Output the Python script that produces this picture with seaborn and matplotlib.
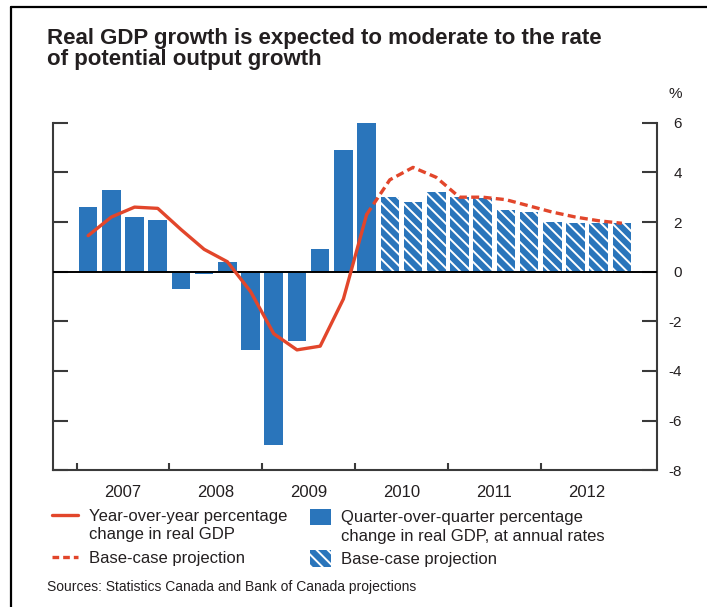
import matplotlib
matplotlib.use("Agg")
import matplotlib.pyplot as plt
import seaborn as sns
import pandas as pd
from matplotlib import font_manager as fm
from matplotlib.lines import Line2D
from matplotlib.patches import Patch

# ---------------- data ----------------
years = ["2007", "2008", "2009", "2010", "2011", "2012"]
quarters = [f"{y}Q{q}" for y in years for q in (1, 2, 3, 4)]
qoq_actual = [2.6, 3.3, 2.2, 2.1, -0.7, -0.1, 0.4, -3.15, -7.0, -2.8, 0.9, 4.9, 6.0]
qoq_projection = [3.0, 2.8, 3.2, 3.0, 2.95, 2.5, 2.4, 2.0, 1.95, 1.95, 1.95]
yoy_actual = [1.45, 2.2, 2.6, 2.55, 1.7, 0.9, 0.4, -0.8, -2.5, -3.15, -3.0, -1.1, 2.3]
yoy_projection = [3.7, 4.2, 3.8, 3.0, 3.0, 2.9, 2.65, 2.4, 2.2, 2.05, 1.95]
y_ticks = [-8, -6, -4, -2, 0, 2, 4, 6]
y_tick_labels = ["-8", "-6", "-4", "-2", "0", "2", "4", "6"]

title = "Real GDP growth is expected to moderate to the rate\nof potential output growth"
legend_line = "Year-over-year percentage"
legend_line2 = "change in real GDP"
legend_bar = "Quarter-over-quarter percentage"
legend_bar2 = "change in real GDP, at annual rates"
legend_proj = "Base-case projection"
source = "Sources: Statistics Canada and Bank of Canada projections"

# ---------------- style ----------------
sns.set_theme(style="white")
avail = {f.name for f in fm.fontManager.ttflist}
BASE = "Liberation Sans"
NARROW = "Liberation Sans Narrow" if "Liberation Sans Narrow" in avail else None
plt.rcParams["font.family"] = [BASE, "DejaVu Sans"]
plt.rcParams["hatch.linewidth"] = 1.4
plt.rcParams["axes.unicode_minus"] = False

BLUE = "#2A75BB"
RED = "#E2462B"
INK = "#231F20"
SPINE = "#3A3A3A"
HATCH = "\\\\\\"

W, H = 707, 607
fig = plt.figure(figsize=(W / 100, H / 100), dpi=100)
fig.patch.set_facecolor("white")

ax_left, ax_right, ax_top, ax_bottom = 53.3, 656.7, 122.7, 470.3
ax = fig.add_axes([ax_left / W, 1 - ax_bottom / H, (ax_right - ax_left) / W, (ax_bottom - ax_top) / H])

n_act = len(qoq_actual)
df = pd.DataFrame({
    "pos": list(range(len(quarters))),
    "quarter": quarters,
    "qoq": qoq_actual + qoq_projection,
    "kind": ["Actual"] * n_act + ["Projection"] * len(qoq_projection),
})

sns.barplot(data=df, x="pos", y="qoq", native_scale=True, color=BLUE, saturation=1,
            width=0.8, errorbar=None, ax=ax)
for patch, kind in zip(ax.containers[0], df["kind"]):
    patch.set_linewidth(0)
    if kind == "Projection":
        patch.set_edgecolor("white")
        patch.set_hatch(HATCH)

ax.axhline(0, color="black", lw=1.4, zorder=3)

line_df = pd.DataFrame({"pos": df["pos"][:n_act], "yoy": yoy_actual})
proj_df = pd.DataFrame({"pos": df["pos"][n_act - 1:], "yoy": [yoy_actual[-1]] + yoy_projection})
sns.lineplot(data=line_df, x="pos", y="yoy", color=RED, lw=2.4, ax=ax, zorder=4,
             solid_joinstyle="round")
sns.lineplot(data=proj_df, x="pos", y="yoy", color=RED, lw=2.4, ax=ax, zorder=4,
             linestyle=(0, (2.4, 1.3)))

ax.set_xlim(-1.5, 24.5)
ax.set_ylim(-8, 6)
ax.set_xlabel("")
ax.set_ylabel("")

# x ticks: year boundaries (major), year labels (minor)
ax.set_xticks([-0.5, 3.5, 7.5, 11.5, 15.5, 19.5], labels=[""] * 6)
ax.set_xticks([1.5, 5.5, 9.5, 13.5, 17.5, 21.5], labels=years, minor=True)
ax.tick_params(axis="x", which="major", bottom=True, direction="in", length=5, width=1.5, color=SPINE)
ax.tick_params(axis="x", which="minor", bottom=True, length=0, labelsize=12, pad=10.5, labelcolor=INK)

ax.set_yticks(y_ticks, labels=y_tick_labels)
ax.tick_params(axis="y", which="major", left=True, right=True, labelleft=False, labelright=True,
               direction="in", length=11, width=1.5, color=SPINE, pad=18.2, labelsize=11,
               labelcolor=INK)
for t in ax.yaxis.get_major_ticks():
    t.label2.set_horizontalalignment("right")

ax.spines["top"].set_visible(False)
for s in ("left", "right", "bottom"):
    ax.spines[s].set_color(SPINE)
    ax.spines[s].set_linewidth(1.5)

# ---------------- text ----------------
def fx(px):
    return px / W

def fy(py):
    return 1 - py / H

fig.text(fx(47), fy(28), title, fontsize=16, fontweight="bold", color=INK, va="top", ha="left",
         linespacing=1.02)
fig.text(fx(675), fy(94), "%", fontsize=11, color=INK, ha="center", va="center")

# ---------------- legend ----------------
def add_entry(handle, label, x_px, y_px, hl, hh, htp):
    leg = fig.legend([handle], [label], loc="center left",
                     bbox_to_anchor=(fx(x_px), fy(y_px)), bbox_transform=fig.transFigure,
                     frameon=False, borderpad=0, borderaxespad=0, handlelength=hl,
                     handleheight=hh, handletextpad=htp, fontsize=12)
    for t in leg.get_texts():
        t.set_color(INK)
    return leg

solid_h = Line2D([], [], color=RED, lw=2.4)
dash_h = Line2D([], [], color=RED, lw=2.4, linestyle=(0, (2.0, 1.2)))
bar_h = Patch(facecolor=BLUE, edgecolor=BLUE, lw=0)
hatch_h = Patch(facecolor=BLUE, edgecolor="white", lw=0, hatch=HATCH)

add_entry(solid_h, legend_line, 52, 516, 1.56, 0.7, 0.66)
fig.text(fx(89), fy(535), legend_line2, fontsize=12, color=INK, va="center", ha="left")
add_entry(dash_h, legend_proj, 52, 558, 1.56, 0.7, 0.66)

add_entry(bar_h, legend_bar, 310, 517, 1.26, 1.14, 0.6)
fig.text(fx(341), fy(536), legend_bar2, fontsize=12, color=INK, va="center", ha="left")
add_entry(hatch_h, legend_proj, 310, 558.5, 1.26, 1.14, 0.6)

if NARROW:
    fig.text(fx(47), fy(587), source, fontsize=12, family=[NARROW, BASE], color=INK, va="center")
else:
    fig.text(fx(47), fy(587), source, fontsize=10, color=INK, va="center")

# frame lines (top and left border of the exhibit)
fig.add_artist(Line2D([fx(11), 1.0], [fy(7), fy(7)], color="black", lw=1.6, transform=fig.transFigure))
fig.add_artist(Line2D([fx(11), fx(11)], [fy(7), 0.0], color="black", lw=1.6, transform=fig.transFigure))

fig.savefig("out.png", dpi=100)
